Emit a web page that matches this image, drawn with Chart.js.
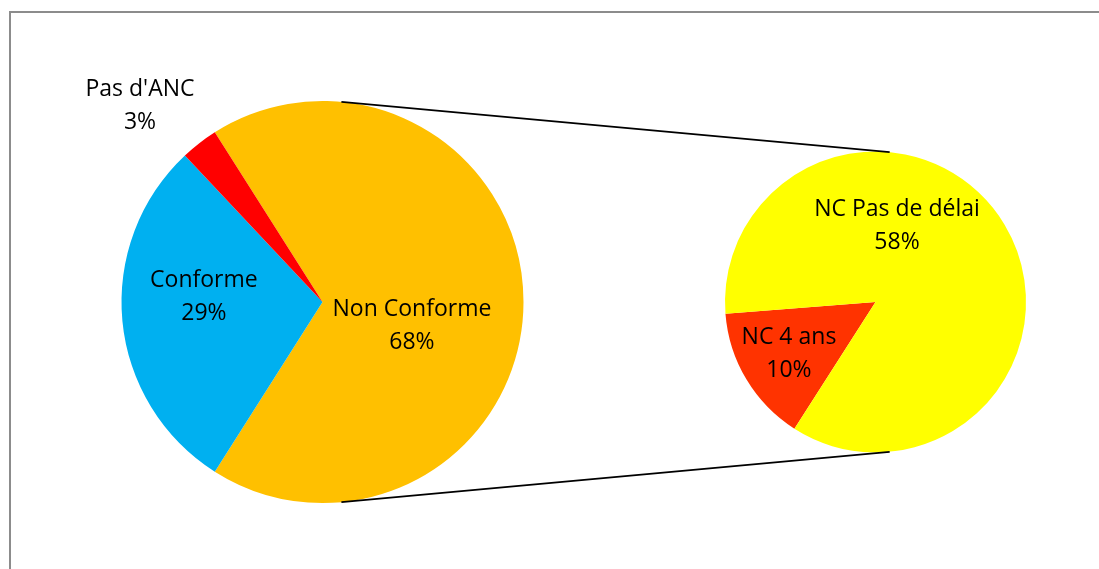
<!DOCTYPE html>
<html>
<head>
<meta charset="utf-8">
<script src="https://cdn.jsdelivr.net/npm/chart.js@4/dist/chart.umd.min.js"></script>
<style>
  html, body { margin: 0; padding: 0; background: #fff; overflow: hidden; }
  #wrap { position: relative; width: 1099px; height: 569px; overflow: hidden; }
  #frame { position: absolute; left: 9px; top: 11px; width: 1200px; height: 700px; border: 2px solid #8c8c8c; box-sizing: border-box; }
  canvas { position: absolute; left: 0; top: 0; }
</style>
</head>
<body>
<div id="wrap">
  <div id="frame"></div>
  <canvas id="c1" width="1099" height="569"></canvas>
  <canvas id="c2" width="1099" height="569"></canvas>
</div>
<script>
// ---- data ----
const mainLabels = ['Non Conforme', 'Conforme', "Pas d'ANC"];
const mainValues = [68, 29, 3];
const subLabels = ['NC 4 ans', 'NC Pas de délai'];
const subValues = [10, 58];

// ---- styles ----
const mainColors = ['#FFC000', '#00B0F0', '#FF0000'];
const subColors = ['#FF3300', '#FFFF00'];
const mainLabelPos = [[0.445, 0.117], [-0.59, -0.027], [-0.908, -0.975]];
const subLabelPos = [[-0.575, 0.342], [0.143, -0.507]];
const FONT = '23px "Open Sans", Lato, sans-serif';
const LINE_H = 33;

const total = mainValues.reduce((a, b) => a + b, 0);
const pct = v => Math.round(v / total * 100) + '%';

function labelPlugin(labels, values, pos) {
  return {
    id: 'lbl',
    afterDatasetsDraw(chart) {
      const arc = chart.getDatasetMeta(0).data[0];
      const cx = arc.x, cy = arc.y, r = arc.outerRadius;
      const ctx = chart.ctx;
      ctx.save();
      ctx.font = FONT;
      ctx.fillStyle = '#000';
      ctx.textAlign = 'center';
      ctx.textBaseline = 'middle';
      labels.forEach((l, i) => {
        const x = cx + pos[i][0] * r, y = cy + pos[i][1] * r;
        ctx.fillText(l, x, y - LINE_H / 2);
        ctx.fillText(pct(values[i]), x, y + LINE_H / 2);
      });
      ctx.restore();
    }
  };
}

const mainFrac = mainValues[0] / total;

const chart1 = new Chart(document.getElementById('c1'), {
  type: 'pie',
  data: { labels: mainLabels, datasets: [{ data: mainValues, backgroundColor: mainColors, borderWidth: 0 }] },
  options: {
    responsive: false, animation: false, rotation: 90 - mainFrac * 180,
    layout: { padding: { left: 121.5, top: 101, right: 575.5, bottom: 66 } },
    plugins: { legend: { display: false }, tooltip: { enabled: false } }
  },
  plugins: [labelPlugin(mainLabels, mainValues, mainLabelPos)]
});

const connectorPlugin = {
  id: 'conn',
  afterDatasetsDraw(chart) {
    const a = chart1.getDatasetMeta(0).data[0];
    const b = chart.getDatasetMeta(0).data[0];
    const ang = 5.4 * Math.PI / 180;
    const ctx = chart.ctx;
    ctx.save();
    ctx.strokeStyle = '#000';
    ctx.lineWidth = 1.8;
    [-1, 1].forEach(s => {
      ctx.beginPath();
      ctx.moveTo(a.x + a.outerRadius * Math.sin(ang), a.y + s * a.outerRadius * Math.cos(ang));
      ctx.lineTo(b.x + b.outerRadius * Math.sin(ang), b.y + s * b.outerRadius * Math.cos(ang));
      ctx.stroke();
    });
    ctx.restore();
  }
};

const chart2 = new Chart(document.getElementById('c2'), {
  type: 'pie',
  data: { labels: subLabels, datasets: [{ data: subValues, backgroundColor: subColors, borderWidth: 0 }] },
  options: {
    responsive: false, animation: false, rotation: 212.6,
    layout: { padding: { left: 725, top: 151.5, right: 73, bottom: 116.5 } },
    plugins: { legend: { display: false }, tooltip: { enabled: false } }
  },
  plugins: [labelPlugin(subLabels, subValues, subLabelPos), connectorPlugin]
});
</script>
</body>
</html>
